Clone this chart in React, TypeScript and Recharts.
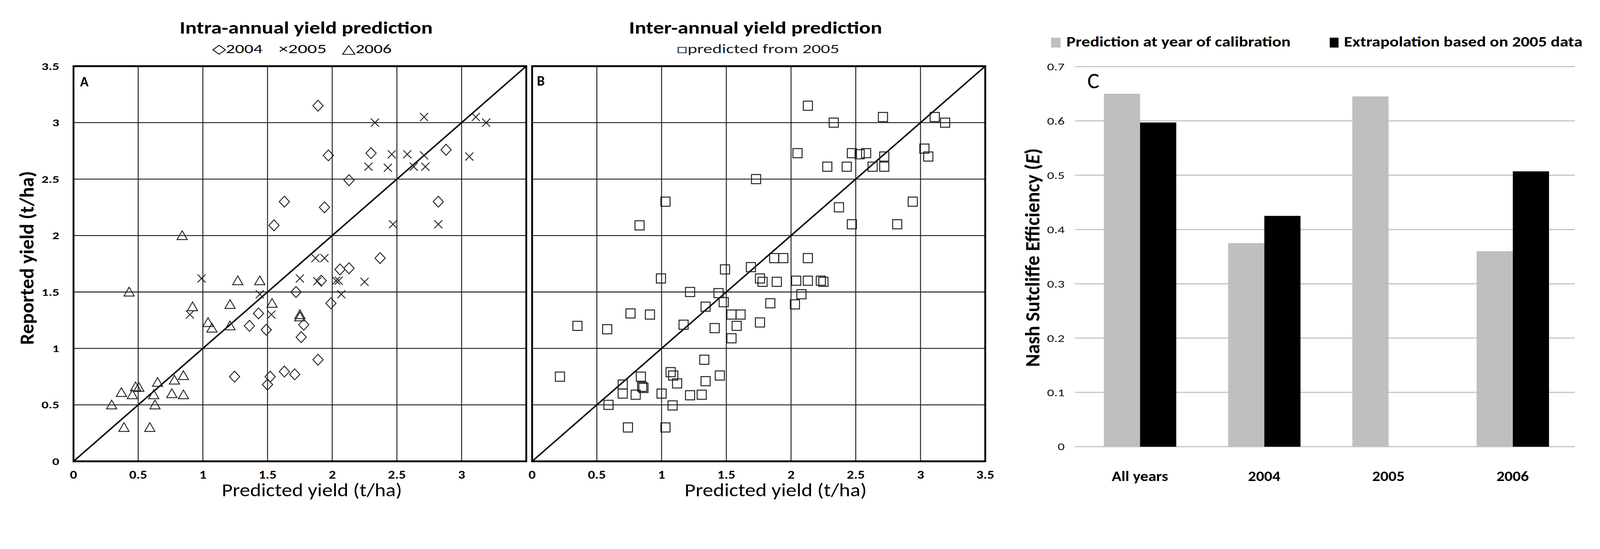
import React from "react";
import {
  ScatterChart,
  Scatter,
  BarChart,
  Bar,
  XAxis,
  YAxis,
  CartesianGrid,
  ReferenceLine,
  ReferenceArea,
} from "recharts";

const FONT = "Carlito, Lato, 'Open Sans', sans-serif";
const W = 4375;
const H = 1405;

// Panel A – intra-annual prediction, [predicted, reported] in t/ha
const intra2004: [number, number][] = [
  [1.89, 3.15], [1.97, 2.71], [2.3, 2.73], [2.88, 2.76], [2.13, 2.49], [1.63, 2.3],
  [1.94, 2.25], [2.82, 2.3], [1.55, 2.09], [2.37, 1.8], [2.06, 1.7], [2.13, 1.71],
  [1.915, 1.6], [1.72, 1.5], [1.99, 1.4], [1.43, 1.31], [1.36, 1.2], [1.49, 1.165],
  [1.78, 1.21], [1.76, 1.1], [1.89, 0.9], [1.245, 0.75], [1.63, 0.795], [1.71, 0.77],
  [1.52, 0.75], [1.5, 0.68],
];
const intra2005: [number, number][] = [
  [2.33, 3.0], [2.71, 3.05], [3.11, 3.05], [3.19, 3.0], [2.46, 2.72], [2.58, 2.72],
  [2.71, 2.71], [3.06, 2.7], [2.28, 2.61], [2.43, 2.6], [2.63, 2.61], [2.72, 2.61],
  [2.47, 2.1], [2.82, 2.1], [1.87, 1.8], [1.94, 1.8], [0.99, 1.62], [1.75, 1.62],
  [1.885, 1.595], [2.03, 1.6], [2.05, 1.6], [2.25, 1.59], [2.07, 1.48], [1.44, 1.48],
  [0.9, 1.3], [1.53, 1.3],
];
const intra2006: [number, number][] = [
  [0.84, 2.0], [0.43, 1.5], [1.27, 1.6], [1.44, 1.6], [0.92, 1.37], [1.21, 1.39],
  [1.535, 1.4], [1.75, 1.3], [1.75, 1.28], [1.04, 1.23], [1.07, 1.18], [1.21, 1.2],
  [0.85, 0.76], [0.78, 0.72], [0.65, 0.7], [0.48, 0.66], [0.505, 0.655], [0.37, 0.61],
  [0.455, 0.59], [0.62, 0.59], [0.76, 0.6], [0.85, 0.59], [0.295, 0.5], [0.63, 0.5],
  [0.39, 0.3], [0.59, 0.3],
];

// Panel B – inter-annual prediction from 2005 calibration
const inter2005: [number, number][] = [
  [2.13, 3.15], [2.33, 3.0], [2.71, 3.05], [3.11, 3.05], [3.19, 3.0], [2.05, 2.73],
  [2.47, 2.73], [2.53, 2.72], [2.58, 2.73], [2.72, 2.7], [3.03, 2.77], [3.06, 2.7],
  [2.28, 2.61], [2.43, 2.61], [2.63, 2.61], [2.72, 2.61], [1.73, 2.5], [1.03, 2.3],
  [2.37, 2.25], [2.94, 2.3], [0.83, 2.09], [2.47, 2.1], [2.82, 2.1],
  [1.87, 1.8], [1.94, 1.8], [2.13, 1.8], [1.49, 1.7], [1.69, 1.72], [0.995, 1.62],
  [1.76, 1.62], [1.78, 1.59], [1.89, 1.59], [2.04, 1.6], [2.13, 1.6], [2.23, 1.6],
  [2.25, 1.59], [1.22, 1.5], [1.44, 1.49], [2.08, 1.48], [1.48, 1.41], [1.84, 1.4],
  [2.03, 1.39], [1.34, 1.37], [0.76, 1.31], [0.91, 1.3], [1.54, 1.3], [1.61, 1.3],
  [1.76, 1.23], [0.35, 1.2], [1.17, 1.21], [0.58, 1.17], [1.41, 1.18], [1.58, 1.2],
  [1.54, 1.09], [1.33, 0.9], [0.215, 0.75], [1.07, 0.79], [1.09, 0.76], [0.84, 0.75],
  [1.45, 0.76], [0.7, 0.68], [1.12, 0.69], [1.34, 0.71], [0.86, 0.65], [0.85, 0.66],
  [0.7, 0.6], [0.8, 0.59], [1.0, 0.6], [1.22, 0.585], [1.31, 0.59], [0.59, 0.5],
  [1.085, 0.495], [0.74, 0.3], [1.03, 0.3],
];

const yieldTicks = [0, 0.5, 1, 1.5, 2, 2.5, 3, 3.5];

// Panel C – Nash Sutcliffe efficiency
const effCategories = ["All years", "2004", "2005", "2006"];
const effCalibration = [0.65, 0.375, 0.645, 0.36];
const effExtrapolation: (number | null)[] = [0.597, 0.425, null, 0.507];
const effTicks = [0, 0.1, 0.2, 0.3, 0.4, 0.5, 0.6, 0.7];

const toPts = (arr: [number, number][]) => arr.map(([x, y]) => ({ x, y }));
const effData = effCategories.map((cat, i) => ({
  cat,
  calib: effCalibration[i],
  extrap: effExtrapolation[i],
}));

const MARK = "#1e1e1e";

const Diamond = (p: any) => (
  <path
    d={`M${p.cx},${p.cy - 15}L${p.cx + 14},${p.cy}L${p.cx},${p.cy + 15}L${p.cx - 14},${p.cy}Z`}
    fill="none"
    stroke={MARK}
    strokeWidth={2.4}
  />
);
const Cross = (p: any) => (
  <path
    d={`M${p.cx - 11},${p.cy - 11}L${p.cx + 11},${p.cy + 11}M${p.cx + 11},${p.cy - 11}L${p.cx - 11},${p.cy + 11}`}
    fill="none"
    stroke={MARK}
    strokeWidth={2.4}
  />
);
const Triangle = (p: any) => (
  <path
    d={`M${p.cx},${p.cy - 13}L${p.cx + 14},${p.cy + 11}L${p.cx - 14},${p.cy + 11}Z`}
    fill="none"
    stroke={MARK}
    strokeWidth={2.4}
  />
);
const Square = (p: any) => (
  <rect x={p.cx - 12.5} y={p.cy - 12.5} width={25} height={25} fill="none" stroke={MARK} strokeWidth={2.6} />
);

function XTick({ x, y, payload, hideLast }: any) {
  if (hideLast && payload.value === 3.5) return null;
  return (
    <g transform={`translate(${x},${y + 47}) scale(1.2,1)`}>
      <text textAnchor="middle" fontFamily={FONT} fontWeight={700} fontSize={32} fill="#000">
        {payload.value}
      </text>
    </g>
  );
}

function YTick({ x, y, payload }: any) {
  return (
    <g transform={`translate(${x - 39},${y + 10}) scale(1.35,1)`}>
      <text textAnchor="end" fontFamily={FONT} fontWeight={700} fontSize={28} fill="#000">
        {payload.value}
      </text>
    </g>
  );
}

function EffYTick({ x, y, payload }: any) {
  return (
    <g transform={`translate(${x},${y + 10}) scale(1.35,1)`}>
      <text textAnchor="end" fontFamily={FONT} fontSize={28} fill="#111">
        {payload.value}
      </text>
    </g>
  );
}

function CatTick({ x, y, payload }: any) {
  return (
    <g transform={`translate(${x},${y + 94}) scale(1.15,1)`}>
      <text textAnchor="middle" fontFamily={FONT} fontWeight={700} fontSize={38} fill="#000">
        {payload.value}
      </text>
    </g>
  );
}

function T({ x, y, size, weight = 400, anchor = "start", len, rotate, fill = "#000", children }: any) {
  return (
    <text
      x={x}
      y={y}
      fontSize={size}
      fontWeight={weight}
      textAnchor={anchor}
      textLength={len}
      lengthAdjust={len ? "spacingAndGlyphs" : undefined}
      transform={rotate ? `rotate(-90 ${x} ${y})` : undefined}
      fontFamily={FONT}
      fill={fill}
    >
      {children}
    </text>
  );
}

function YieldPanel({ left, width, yAxisWidth, leftGap, rightGap, hideLast, children }: any) {
  return (
    <div style={{ position: "absolute", left, top: 0 }}>
      <ScatterChart
        width={width}
        height={H}
        margin={{ top: 181, right: rightGap, bottom: 84, left: leftGap }}
      >
        <CartesianGrid stroke="#1a1a1a" strokeWidth={2.5} />
        <XAxis
          type="number"
          dataKey="x"
          domain={[0, 3.5]}
          ticks={yieldTicks}
          interval={0}
          height={60}
          axisLine={false}
          tickLine={false}
          tickSize={0}
          tickMargin={0}
          tick={<XTick hideLast={hideLast} />}
        />
        <YAxis
          type="number"
          dataKey="y"
          domain={[0, 3.5]}
          ticks={yieldTicks}
          interval={0}
          width={yAxisWidth || 0}
          hide={!yAxisWidth}
          axisLine={false}
          tickLine={false}
          tickSize={0}
          tickMargin={0}
          tick={<YTick />}
        />
        <ReferenceArea x1={0} x2={3.5} y1={0} y2={3.5} fill="none" stroke="#000" strokeWidth={5} />
        <ReferenceLine
          segment={[
            { x: 0, y: 0 },
            { x: 3.5, y: 3.5 },
          ]}
          stroke="#000"
          strokeWidth={4}
        />
        {children}
      </ScatterChart>
    </div>
  );
}

export default function App() {
  // the whole figure is laid out on a 4375x1405 canvas; fit it to the viewport
  const vw = typeof window !== "undefined" ? window.innerWidth : W;
  const vh = typeof window !== "undefined" ? window.innerHeight : H;
  const s = Math.min(vw / W, vh / H) || 1;

  return (
    <div
      style={{
        position: "absolute",
        left: 0,
        top: 0,
        width: W,
        height: H,
        background: "#fff",
        transform: `scale(${s})`,
        transformOrigin: "0 0",
      }}
    >
      <YieldPanel left={0} width={1450} yAxisWidth={201} leftGap={0} rightGap={11} hideLast>
        <Scatter data={toPts(intra2004)} shape={Diamond} isAnimationActive={false} />
        <Scatter data={toPts(intra2005)} shape={Cross} isAnimationActive={false} />
        <Scatter data={toPts(intra2006)} shape={Triangle} isAnimationActive={false} />
      </YieldPanel>

      <YieldPanel left={1425} width={1295} yAxisWidth={0} leftGap={30} rightGap={26}>
        <Scatter data={toPts(inter2005)} shape={Square} isAnimationActive={false} />
      </YieldPanel>

      <div style={{ position: "absolute", left: 2750, top: 0 }}>
        <BarChart
          width={1625}
          height={H}
          data={effData}
          margin={{ top: 182, right: 69, bottom: 84, left: 0 }}
          barCategoryGap="21%"
          barGap={0}
        >
          <CartesianGrid vertical={false} stroke="#c0c0c0" strokeWidth={3} />
          <XAxis
            xAxisId="edges"
            type="number"
            domain={[0, 4]}
            ticks={[0, 1, 2, 3, 4]}
            height={0}
            tick={false}
            tickSize={18}
            axisLine={{ stroke: "#b8b8b8", strokeWidth: 3 }}
            tickLine={{ stroke: "#b8b8b8", strokeWidth: 2 }}
          />
          <XAxis
            dataKey="cat"
            height={100}
            axisLine={false}
            tickLine={false}
            tickSize={0}
            tickMargin={0}
            interval={0}
            tick={<CatTick />}
          />
          <YAxis
            domain={[0, 0.7]}
            ticks={effTicks}
            interval={0}
            width={197}
            axisLine={false}
            tickSize={9}
            tickMargin={27}
            tickLine={{ stroke: "#b8b8b8", strokeWidth: 2 }}
            tick={<EffYTick />}
          />
          <Bar dataKey="calib" fill="#bfbfbf" isAnimationActive={false} />
          <Bar dataKey="extrap" fill="#000" isAnimationActive={false} />
        </BarChart>
      </div>

      <svg width={W} height={H} style={{ position: "absolute", left: 0, top: 0, pointerEvents: "none" }}>
        {/* panel A texts */}
        <T x={837} y={92} size={47} weight={700} anchor="middle" len={692}>
          Intra-annual yield prediction
        </T>
        <T x={580} y={145} size={35} len={138}>◇2004</T>
        <T x={762} y={145} size={35} len={131}>×2005</T>
        <T x={935} y={145} size={35} len={136}>△2006</T>
        <T x={219} y={236} size={38} weight={700}>A</T>
        <T x={853} y={1357} size={50} anchor="middle" len={493}>
          Predicted yield (t/ha)
        </T>
        <T x={92} y={705} size={54} weight={700} anchor="middle" len={475} rotate>
          Reported yield (t/ha)
        </T>

        {/* panel B texts */}
        <T x={2066} y={92} size={47} weight={700} anchor="middle" len={692}>
          Inter-annual yield prediction
        </T>
        <T x={1850} y={145} size={35} len={445} fill="#1a1a1a">□predicted from 2005</T>
        <T x={1468} y={234} size={38} weight={700}>B</T>
        <T x={2121} y={1357} size={50} anchor="middle" len={498}>
          Predicted yield (t/ha)
        </T>

        {/* panel C texts */}
        <rect x={2874} y={103} width={26} height={27} fill="#bfbfbf" />
        <T x={2916} y={127} size={38} weight={700} len={613}>
          Prediction at year of calibration
        </T>
        <rect x={3636} y={103} width={24} height={27} fill="#000" />
        <T x={3675} y={127} size={38} weight={700} len={652}>
          Extrapolation based on 2005 data
        </T>
        <T x={2973} y={241} size={62} weight={300}>C</T>
        <T x={2842} y={704} size={56} weight={700} anchor="middle" len={598} rotate>
          Nash Sutcliffe Efficiency (<tspan fontStyle="italic">E</tspan>)
        </T>
      </svg>
    </div>
  );
}
